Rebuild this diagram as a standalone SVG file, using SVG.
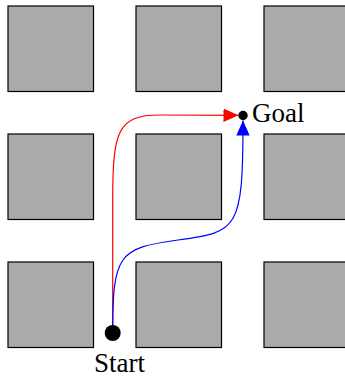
<svg xmlns="http://www.w3.org/2000/svg" width="345" height="379" viewBox="0 0 345 379">
<style>
.blk{fill:#aaaaaa;stroke:#000;stroke-width:1.2}
.lbl{font-family:"Liberation Serif","DejaVu Serif",serif;font-size:27px;fill:#000}
.path{fill:none;stroke-width:1.2}
</style>
<defs>
<marker id="arR" markerUnits="userSpaceOnUse" viewBox="0 0 15 13.4" refX="15" refY="6.7" markerWidth="15" markerHeight="13.4" orient="auto"><path d="M0,0 L15,6.7 L0,13.4 z" fill="#ff0000"/></marker>
<marker id="arB" markerUnits="userSpaceOnUse" viewBox="0 0 15 13.4" refX="15" refY="6.7" markerWidth="15" markerHeight="13.4" orient="auto"><path d="M0,0 L15,6.7 L0,13.4 z" fill="#0000ff"/></marker>
</defs>
<g id="blocks">
<rect id="b11" class="blk" x="8" y="6" width="85.5" height="85.5"/>
<rect id="b12" class="blk" x="136" y="6" width="85.5" height="85.5"/>
<rect id="b13" class="blk" x="264" y="6" width="85.5" height="85.5"/>
<rect id="b21" class="blk" x="8" y="134" width="85.5" height="85.5"/>
<rect id="b22" class="blk" x="136" y="134" width="85.5" height="85.5"/>
<rect id="b23" class="blk" x="264" y="134" width="85.5" height="85.5"/>
<rect id="b31" class="blk" x="8" y="262" width="85.5" height="85.5"/>
<rect id="b32" class="blk" x="136" y="262" width="85.5" height="85.5"/>
<rect id="b33" class="blk" x="264" y="262" width="85.5" height="85.5"/>
</g>
<g id="connectors">
<path class="path" stroke="#ff0000" d="M112.7,333 L112.7,200 C112.7,130 118,115 160,115 L238.5,115.3" marker-end="url(#arR)"/>
<path class="path" stroke="#0000ff" d="M112.7,333 C112.7,255 118,248 178,240 C238,232 243,230 243,120.5" marker-end="url(#arB)"/>
</g>
<g id="start">
<circle cx="112.7" cy="333" r="8" fill="#000"/>
<text class="lbl" x="94" y="372.3">Start</text>
</g>
<g id="goal">
<circle cx="243" cy="115.5" r="4.7" fill="#000"/>
<text class="lbl" x="252" y="121.7">Goal</text>
</g>
</svg>
